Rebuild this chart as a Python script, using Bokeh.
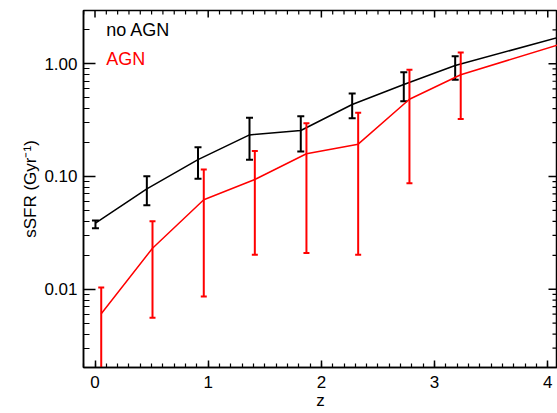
import math
from bokeh.plotting import figure
from bokeh.models import Range1d, FixedTicker, SingleIntervalTicker, Label
from bokeh.embed import file_html
from bokeh.resources import INLINE

# ---- data ----
z_noagn = [0.004, 0.458, 0.91, 1.365, 1.818, 2.272, 2.728, 3.182, 4.1]
ssfr_noagn = [0.0385, 0.0778, 0.141, 0.234, 0.256, 0.435, 0.655, 0.966, 1.72]
lo_noagn = [0.0348, 0.0557, 0.0954, 0.141, 0.167, 0.329, 0.466, 0.721]
hi_noagn = [0.0407, 0.1006, 0.182, 0.332, 0.343, 0.545, 0.842, 1.168]

z_agn = [0.055, 0.508, 0.961, 1.412, 1.868, 2.325, 2.778, 3.231, 4.1]
ssfr_agn = [0.00605, 0.0231, 0.0621, 0.094, 0.159, 0.1935, 0.485, 0.799, 1.48]
lo_agn = [0.0015, 0.00557, 0.00861, 0.0202, 0.0209, 0.0202, 0.0872, 0.323]
hi_agn = [0.01035, 0.0401, 0.1153, 0.168, 0.297, 0.367, 0.885, 1.26]

y_ticks = [0.01, 0.1, 1.0]
y_tick_labels = {0.01: "0.01", 0.1: "0.10", 1.0: "1.00"}

FONT = "Liberation Sans"
X0, X1 = -0.1016, 4.086
Y0, Y1 = 0.00202, 2.97

p = figure(width=557, height=413, y_axis_type="log",
           x_range=Range1d(X0, X1), y_range=Range1d(Y0, Y1),
           output_backend="svg", toolbar_location=None,
           min_border_left=83, min_border_right=0, min_border_top=10, min_border_bottom=46)
p.grid.visible = False
p.outline_line_color = "black"
p.outline_line_width = 1.5
p.background_fill_color = "white"
p.border_fill_color = "white"

x_major = list(range(0, 5))
x_minor = [i / 10 for i in range(-1, 41) if i % 10 != 0]
y_minor = [m * 10.0 ** e for e in range(-3, 1) for m in range(2, 10)]
x_ticker = SingleIntervalTicker(interval=1, num_minor_ticks=10)
y_ticker = FixedTicker(ticks=y_ticks, minor_ticks=y_minor)

def style(ax, major_in, minor_in):
    ax.axis_line_color = "black"
    ax.axis_line_width = 1.5
    ax.major_tick_line_color = "black"
    ax.minor_tick_line_color = "black"
    ax.major_tick_line_width = 1.5
    ax.minor_tick_line_width = 1.2
    ax.major_tick_out = 0
    ax.minor_tick_out = 0
    ax.major_tick_in = major_in
    ax.minor_tick_in = minor_in
    ax.major_label_text_font = FONT
    ax.major_label_text_color = "black"
    ax.axis_label_text_font = FONT
    ax.axis_label_text_font_style = "normal"
    ax.axis_label_text_color = "black"

xa = p.xaxis[0]
xa.ticker = x_ticker
style(xa, 7, 4)
xa.major_label_text_font_size = "17px"
xa.major_label_standoff = 8
xa.axis_label = "z"
xa.axis_label_text_font_size = "17px"
xa.axis_label_standoff = 0

ya = p.yaxis[0]
ya.ticker = y_ticker
style(ya, 12, 6)
ya.major_label_overrides = y_tick_labels
ya.major_label_text_font_size = "17px"
ya.major_label_standoff = 6
ya.axis_label = "sSFR (Gyr\u207b\u00b9)"
ya.axis_label_text_font_size = "17px"
ya.axis_label_standoff = 1

# mirrored inward ticks on the top and right frame edges (half clipped by the frame)
p.scatter(x_major, [Y1] * len(x_major), marker="dash", angle=math.pi / 2, size=14,
          line_color="black", line_width=1.5)
p.scatter(x_minor, [Y1] * len(x_minor), marker="dash", angle=math.pi / 2, size=8,
          line_color="black", line_width=1.2)
p.scatter([X1] * len(y_ticks), y_ticks, marker="dash", size=18,
          line_color="black", line_width=1.5)
p.scatter([X1] * len(y_minor), y_minor, marker="dash", size=10,
          line_color="black", line_width=1.2)

# ---- no AGN (black) ----
p.line(z_noagn, ssfr_noagn, line_color="black", line_width=1.5)
ze = z_noagn[:len(lo_noagn)]
p.segment(x0=ze, y0=lo_noagn, x1=ze, y1=hi_noagn, line_color="black", line_width=2)
p.scatter(ze, lo_noagn, marker="dash", size=7, line_color="black", line_width=2)
p.scatter(ze, hi_noagn, marker="dash", size=7, line_color="black", line_width=2)

# ---- AGN (red) ----
p.line(z_agn, ssfr_agn, line_color="#ff0000", line_width=1.5)
za = z_agn[:len(lo_agn)]
p.segment(x0=za, y0=lo_agn, x1=za, y1=hi_agn, line_color="#ff0000", line_width=2)
p.scatter(za, lo_agn, marker="dash", size=6, line_color="#ff0000", line_width=2)
p.scatter(za, hi_agn, marker="dash", size=6, line_color="#ff0000", line_width=2)

# ---- legend texts ----
p.add_layout(Label(x=0.1, y=2.01, text="no AGN", text_color="black", text_font=FONT,
                   text_font_size="18px", text_baseline="middle"))
p.add_layout(Label(x=0.1, y=1.107, text="AGN", text_color="#ff0000", text_font=FONT,
                   text_font_size="18px", text_baseline="middle"))

open("out.html", "w").write(file_html(p, INLINE))
